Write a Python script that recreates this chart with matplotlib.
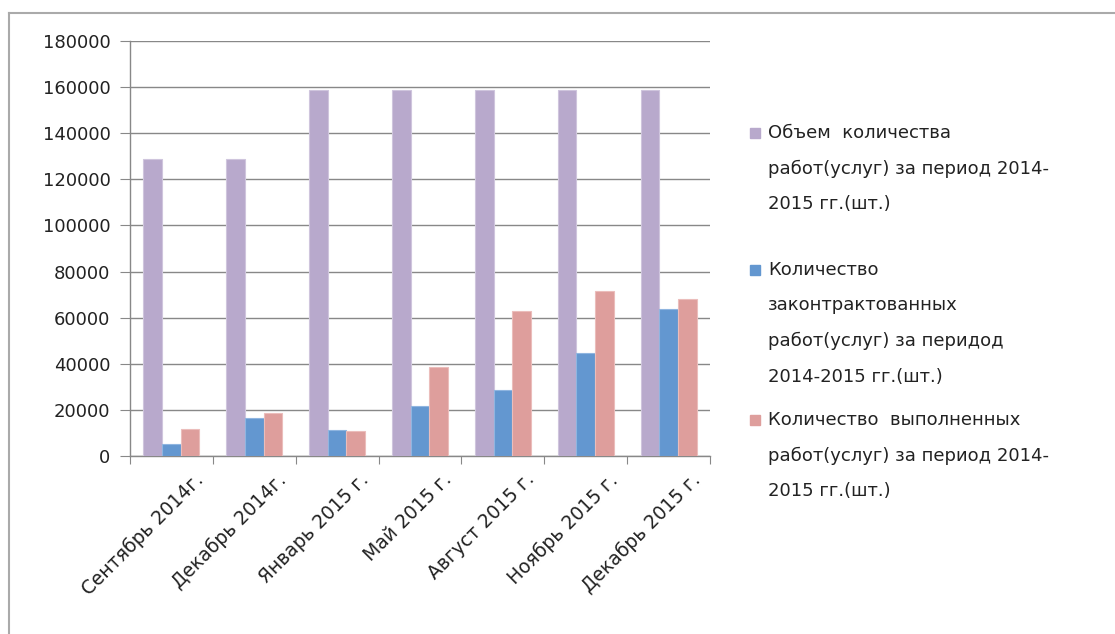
import matplotlib.pyplot as plt
from matplotlib.lines import Line2D
from matplotlib.transforms import ScaledTranslation
import numpy as np

categories = ["Сентябрь 2014г.", "Декабрь 2014г.", "Январь 2015 г.", "Май 2015 г.",
              "Август 2015 г.", "Ноябрь 2015 г.", "Декабрь 2015 г."]
volume = [129000, 129000, 158700, 158700, 158700, 158700, 158700]
contracted = [5000, 16600, 11400, 21700, 28800, 44500, 63600]
completed = [11700, 18500, 10700, 38500, 62900, 71600, 68300]

labels = [
    ["Объем  количества", "работ(услуг) за период 2014-", "2015 гг.(шт.)"],
    ["Количество", "законтрактованных", "работ(услуг) за перидод", "2014-2015 гг.(шт.)"],
    ["Количество  выполненных", "работ(услуг) за период 2014-", "2015 гг.(шт.)"],
]
colors = ["#B8A9CC", "#6397D0", "#DE9E9C"]
edges = ["#CFC5DD", "#8FB5E0", "#EBBDBB"]

plt.rcParams['font.family'] = ['DejaVu Sans']

fig = plt.figure(figsize=(11.15, 6.34), dpi=100)
ax = fig.add_axes([130 / 1115, 1 - 456 / 634, 580 / 1115, 415 / 634])

x = np.arange(len(categories))
w = 0.225
series = [volume, contracted, completed]
for i, vals in enumerate(series):
    ax.bar(x + (i - 1) * w, vals, w, color=colors[i], edgecolor=edges[i],
           linewidth=0.8, zorder=3)

ax.set_xlim(-0.5, len(categories) - 0.5)
ax.set_ylim(0, 180000)
ax.set_yticks(range(0, 180001, 20000))
ax.tick_params(axis='y', labelsize=13, length=7, color="#888888", pad=7,
               labelcolor="#222222")
ax.grid(axis='y', color="#888888", linewidth=1, zorder=0)

ax.set_xticks(np.arange(-0.5, len(categories), 1))
ax.set_xticklabels([])
ax.set_xticks(x, minor=True)
ax.set_xticklabels(categories, minor=True, rotation=45, ha='right',
                   rotation_mode='anchor', fontsize=13.5, color="#222222")
ax.tick_params(axis='x', which='major', length=6, color="#888888", direction='out')
ax.tick_params(axis='x', which='minor', length=0, pad=10)
shift = ScaledTranslation(22 / 100, 0, fig.dpi_scale_trans)
for t in ax.xaxis.get_minorticklabels():
    t.set_transform(t.get_transform() + shift)

for s in ['top', 'right']:
    ax.spines[s].set_visible(False)
for s in ['left', 'bottom']:
    ax.spines[s].set_color("#888888")
    ax.spines[s].set_linewidth(1)

# legend entries
first_y = [133, 270, 420]
step = 35.5
for i in range(3):
    y0 = first_y[i]
    fig.patches.append(plt.Rectangle((750 / 1115, 1 - (y0 + 5) / 634), 10 / 1115, 10 / 634,
                                     transform=fig.transFigure, color=colors[i]))
    for k, line in enumerate(labels[i]):
        fig.text(768 / 1115, 1 - (y0 + k * step) / 634, line, fontsize=13,
                 va='center', ha='left', color="#222222")

# outer frame
fig.add_artist(Line2D([9 / 1115, 9 / 1115], [0, 1 - 13 / 634], color="#AAAAAA",
                      linewidth=1.5, transform=fig.transFigure))
fig.add_artist(Line2D([9 / 1115, 1], [1 - 13 / 634, 1 - 13 / 634], color="#AAAAAA",
                      linewidth=1.5, transform=fig.transFigure))

fig.savefig("out.png", dpi=100)
